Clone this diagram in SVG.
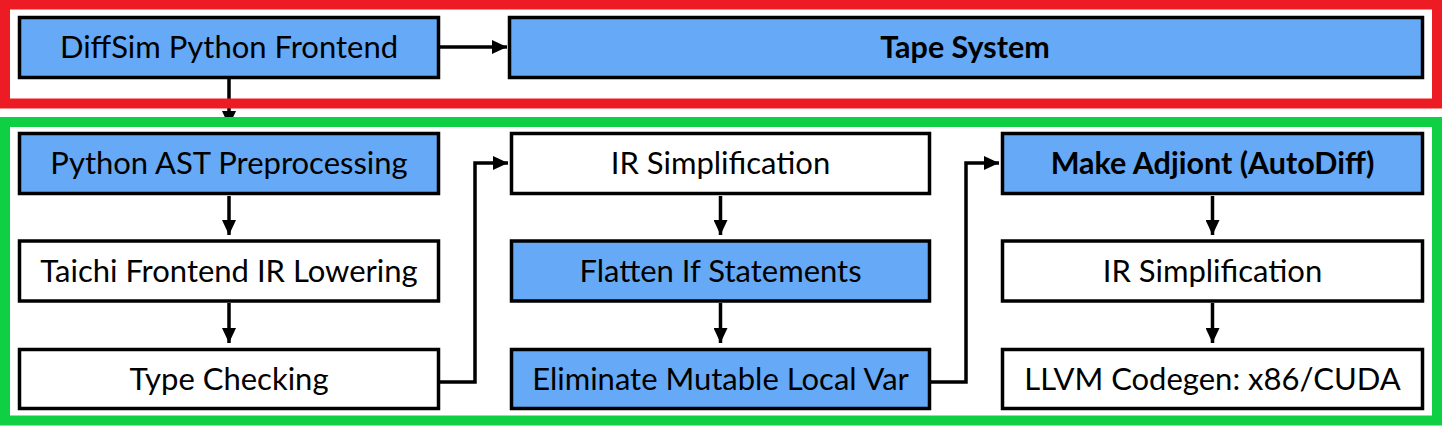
<svg xmlns="http://www.w3.org/2000/svg" width="1442" height="426" viewBox="0 0 1442 426">
<style>
.box{stroke:#000;stroke-width:3.5}
.blue{fill:#66a9f6}
.white{fill:#fff}
.t{font-family:Lato,"Open Sans","Noto Sans",sans-serif;font-size:31px;fill:#000;text-anchor:middle}
.b{font-weight:bold;font-size:30.5px}
.c{fill:none;stroke:#000;stroke-width:3.5}
.frame{fill:none;stroke-width:10}
</style>
<defs>
<marker id="ah" viewBox="0 0 15 14" refX="15" refY="7" markerWidth="15" markerHeight="14" markerUnits="userSpaceOnUse" orient="auto">
<path d="M0,0 L15,7 L0,14 z" fill="#000"/>
</marker>
</defs>
<rect width="1442" height="426" fill="#fff"/>
<g id="connectors">
<path class="c" d="M440,47 L507,47" marker-end="url(#ah)"/>
<path class="c" d="M229,79 L229,126" marker-end="url(#ah)"/>
<path class="c" d="M229,196 L229,235" marker-end="url(#ah)"/>
<path class="c" d="M229,303 L229,343" marker-end="url(#ah)"/>
<path class="c" d="M440,382 L475,382 L475,163 L508,163" marker-end="url(#ah)"/>
<path class="c" d="M720.5,196 L720.5,235" marker-end="url(#ah)"/>
<path class="c" d="M720.5,303 L720.5,343" marker-end="url(#ah)"/>
<path class="c" d="M931,382 L966,382 L966,163 L999,163" marker-end="url(#ah)"/>
<path class="c" d="M1212.5,196 L1212.5,235" marker-end="url(#ah)"/>
<path class="c" d="M1212.5,303 L1212.5,343" marker-end="url(#ah)"/>
</g>
<g id="frame-tape"><rect class="frame" x="5" y="4.5" width="1432" height="99" stroke="#ed1c24"/></g>
<g id="frame-taichi"><rect class="frame" x="5" y="122" width="1432" height="298.5" stroke="#0fd045"/></g>
<g id="n-diffsim"><rect class="box blue" x="19.5" y="17.5" width="419" height="60"/><text class="t" x="229" y="58">DiffSim Python Frontend</text></g>
<g id="n-tape"><rect class="box blue" x="509.5" y="17.5" width="913" height="60"/><text class="t b" x="965" y="58">Tape System</text></g>
<g id="n-ast"><rect class="box blue" x="19.5" y="133.5" width="419" height="60"/><text class="t" x="229" y="174">Python AST Preprocessing</text></g>
<g id="n-lower"><rect class="box white" x="19.5" y="241" width="419" height="60"/><text class="t" x="229" y="282">Taichi Frontend IR Lowering</text></g>
<g id="n-type"><rect class="box white" x="19.5" y="349.5" width="419" height="59"/><text class="t" x="229" y="390">Type Checking</text></g>
<g id="n-simp1"><rect class="box white" x="511.5" y="133.5" width="418" height="60"/><text class="t" x="720.5" y="174">IR Simplification</text></g>
<g id="n-flatten"><rect class="box blue" x="511.5" y="241" width="418" height="60"/><text class="t" x="720.5" y="282">Flatten If Statements</text></g>
<g id="n-elim"><rect class="box blue" x="511.5" y="349.5" width="418" height="59"/><text class="t" x="720.5" y="390">Eliminate Mutable Local Var</text></g>
<g id="n-adj"><rect class="box blue" x="1002.5" y="133.5" width="420" height="60"/><text class="t b" x="1212.5" y="174">Make Adjiont (AutoDiff)</text></g>
<g id="n-simp2"><rect class="box white" x="1002.5" y="241" width="420" height="60"/><text class="t" x="1212.5" y="282">IR Simplification</text></g>
<g id="n-llvm"><rect class="box white" x="1002.5" y="349.5" width="420" height="59"/><text class="t" x="1212.5" y="390">LLVM Codegen: x86/CUDA</text></g>
</svg>
